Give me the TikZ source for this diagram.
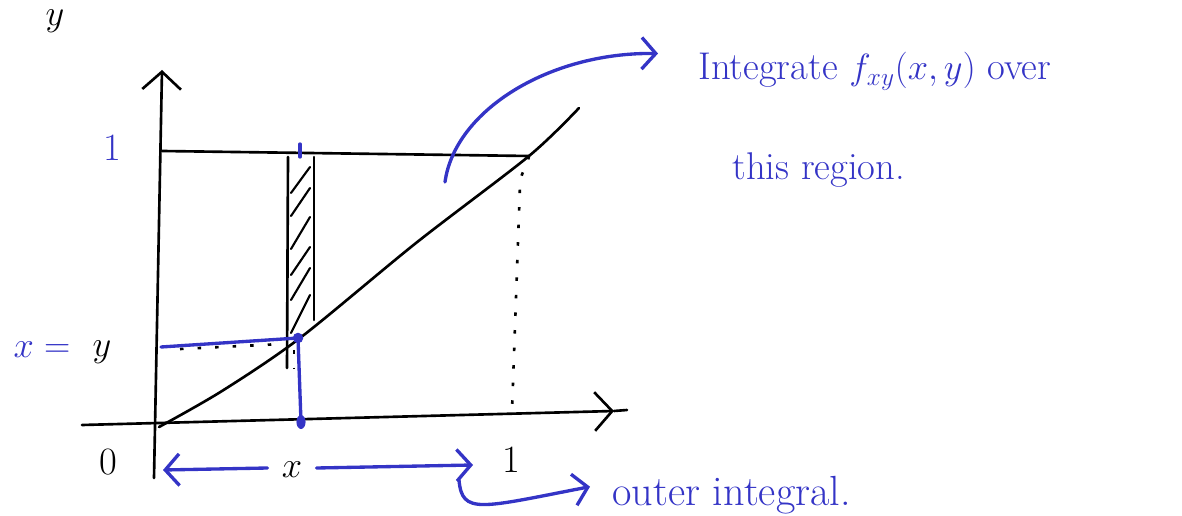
\documentclass[tikz,border=0pt]{standalone}
\usepackage{xcolor}
\usepackage{tikz}
\usetikzlibrary{arrows.meta, calc, positioning}

\definecolor{penblue}{RGB}{52,52,198}

\begin{document}
\begin{tikzpicture}[
    x=0.02cm, y=-0.02cm,
    ink/.style={line width=1.5pt, black, line cap=round},
    axis/.style={ink, -{Straight Barb[length=10pt, width=22pt, line width=1.5pt]}},
    dotline/.style={line width=1.5pt, black, dash pattern=on 2pt off 8pt},
    pen/.style={line width=1.9pt, penblue, line cap=round},
    penarrow/.style={pen, -{Straight Barb[length=8pt, width=18pt, line width=1.9pt]}},
    lbl/.style={font=\fontsize{22}{26}\selectfont, inner sep=0pt},
    bluelbl/.style={lbl, text=penblue}
  ]
  \useasboundingbox (0,0) rectangle (1182,516);

  % axes
  \coordinate (ybot) at (154,478);
  \coordinate (ytop) at (162,70);
  \coordinate (xleft) at (82,425);
  \coordinate (xright) at (614,411);
  \draw [axis] (ybot) -- (ytop);
  \draw [axis] (xleft) -- (xright);
  \draw [ink] (xright) -- (627,410);

  % y = 1 line and diagonal
  \coordinate (top0) at (162,151);
  \coordinate (top1) at (529,156);
  \draw [ink] (top0) -- (top1);
  \draw [ink] plot[smooth] coordinates {(159,427) (222,391) (300,338) (416,243) (529,156) (579,108)};
  \draw [dotline] (top1) to[out=-100,in=90] (520,185) -- (512,411);

  % strip
  \draw [ink] (288,157) -- (287,368);
  \draw [ink] (314,157) -- (314,320);
  \foreach \ya/\yb in {193/167, 216/188, 249/217, 275/247, 300/268, 333/295}
    \draw [ink, line width=1.2pt] (291,\ya) -- (310,\yb);
  \draw [pen] (300,144) -- (300,157);

  % point on the diagonal
  \coordinate (pt) at (298,338);
  \coordinate (px) at (301,422);
  \coordinate (py) at (161,347);
  \draw [dotline] (180,349) -- (282,344);
  \draw [dotline] (294,350) -- (294,368);
  \draw [pen] (py) -- (pt) -- (px);
  \fill [penblue] (pt) circle [radius=3pt];
  \fill [penblue] (px) ellipse [x radius=2.6pt, y radius=4pt];

  % labels on the axes
  \node (ylab)  [lbl, anchor=base] at (55,26) {$y$};
  \node (one)   [bluelbl] at (112,148) {1};
  \node (xeq)   [bluelbl] at (42,350)  {$x =$};
  \node (yval)  [lbl] at (102,352)  {$y$};
  \node (zero)  [lbl] at (108,462)  {0};
  \node (onex)  [lbl] at (511,460)  {1};
  \node (xval)  [lbl] at (292,470)  {$x$};

  % outer range
  \coordinate (xfrom) at (163,470);
  \coordinate (xto) at (473,465);
  \draw [penarrow] ($(xval.west)+(-14,-2)$) -- (xfrom);
  \draw [penarrow] ($(xval.east)+(14,-2)$) -- (xto);

  % notes
  \node (integ) [bluelbl, anchor=base west] at (698,80) {Integrate $f_{xy}(x,y)$ over};
  \node (regn)  [bluelbl, anchor=base west] at (732,180) {this region.};
  \node (outer) [bluelbl, anchor=base west, font=\fontsize{24}{28}\selectfont] at (612,505) {outer integral.};

  \coordinate (region) at (445,182);
  \draw [penarrow] (region) .. controls (455,110) and (550,52) .. ($(integ.west)+(-40,-18)$);
  \coordinate (xstart) at (459,480);
  \draw [penarrow] (xstart) .. controls (462,515) and (480,508) .. ($(outer.west)+(-22,-8)$);
\end{tikzpicture}
\end{document}
